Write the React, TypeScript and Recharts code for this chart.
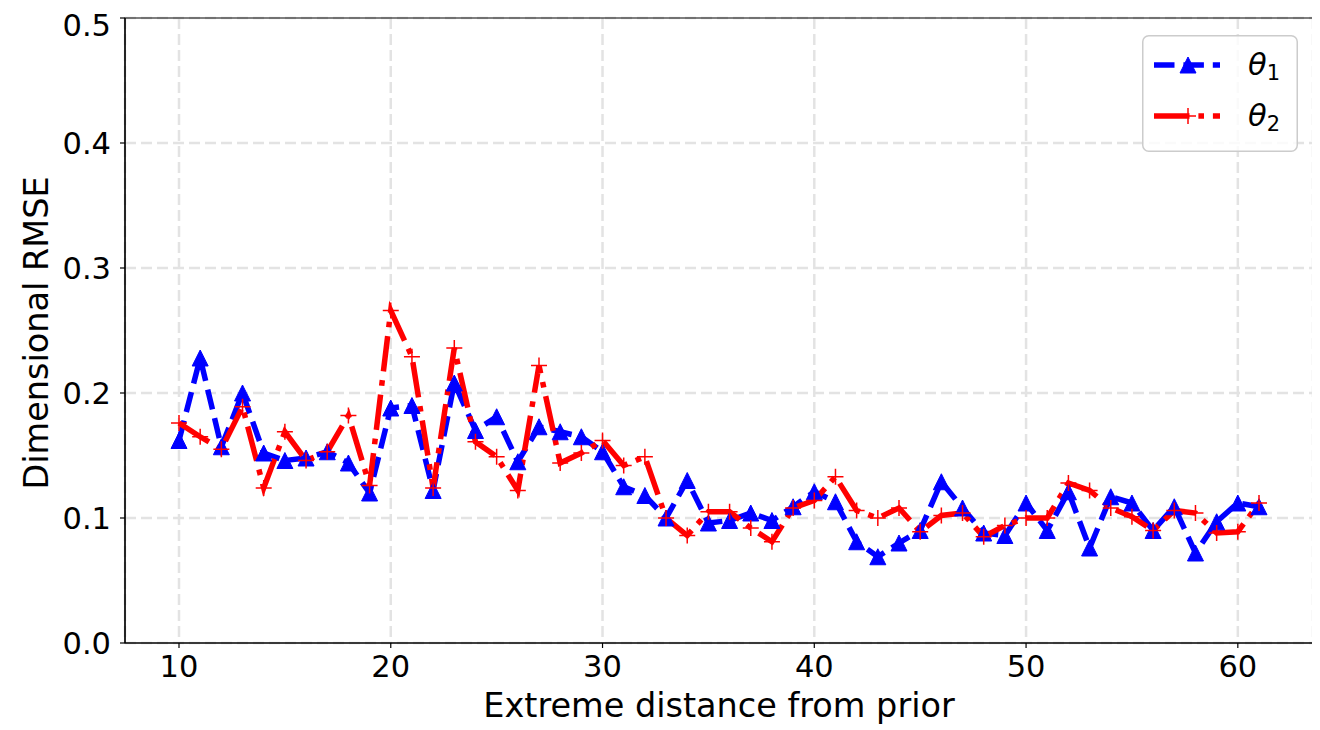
import React from 'react';
import { LineChart, Line, XAxis, YAxis, CartesianGrid, Label, Legend, ReferenceArea } from 'recharts';

const distances = [10, 11, 12, 13, 14, 15, 16, 17, 18, 19, 20, 21, 22, 23, 24, 25, 26, 27, 28, 29, 30, 31, 32, 33, 34, 35, 36, 37, 38, 39, 40, 41, 42, 43, 44, 45, 46, 47, 48, 49, 50, 51, 52, 53, 54, 55, 56, 57, 58, 59, 60, 61];
const theta1 = [0.162, 0.228, 0.157, 0.200, 0.152, 0.146, 0.148, 0.153, 0.144, 0.120, 0.188, 0.190, 0.122, 0.208, 0.170, 0.181, 0.145, 0.173, 0.169, 0.165, 0.153, 0.125, 0.118, 0.100, 0.130, 0.096, 0.098, 0.104, 0.098, 0.109, 0.121, 0.113, 0.081, 0.069, 0.080, 0.090, 0.129, 0.108, 0.088, 0.086, 0.112, 0.090, 0.121, 0.076, 0.117, 0.112, 0.090, 0.109, 0.072, 0.097, 0.112, 0.109];
const theta2 = [0.176, 0.165, 0.155, 0.189, 0.124, 0.169, 0.146, 0.153, 0.182, 0.126, 0.266, 0.229, 0.124, 0.236, 0.161, 0.149, 0.122, 0.222, 0.144, 0.152, 0.162, 0.142, 0.149, 0.100, 0.086, 0.105, 0.105, 0.092, 0.081, 0.108, 0.114, 0.133, 0.106, 0.100, 0.108, 0.089, 0.102, 0.104, 0.085, 0.094, 0.100, 0.100, 0.128, 0.122, 0.108, 0.101, 0.090, 0.106, 0.104, 0.088, 0.089, 0.112];
const xTicks = [10, 20, 30, 40, 50, 60];
const yTicks = [0.0, 0.1, 0.2, 0.3, 0.4, 0.5];
const seriesNames = ['θ', 'θ'];
const seriesSubs = ['1', '2'];
const xLabel = 'Extreme distance from prior';
const yLabel = 'Dimensional RMSE';

const data = distances.map((d, i) => ({ d, t1: theta1[i], t2: theta2[i] }));

const FONT = '"DejaVu Sans", sans-serif';
const BLUE = '#0000ff';
const RED = '#ff0000';
const LW = 5.5;
const DASH_BLUE = '20.5 8.9';
const DASH_RED = '35.5 8.9 5.6 8.9';
const MS = 8;
const TICK_FS = 30.5;
const LABEL_FS = 33.5;

const triPath = (cx: number, cy: number) => `M${cx},${cy - MS}L${cx - MS},${cy + MS}L${cx + MS},${cy + MS}Z`;

const TriDot = (props: any) => {
  const { cx, cy, index } = props;
  if (cx == null || cy == null) return <g key={`tri-${index}`} />;
  return <path key={`tri-${index}`} d={triPath(cx, cy)} fill={BLUE} stroke={BLUE} strokeWidth={1} />;
};

const PlusDot = (props: any) => {
  const { cx, cy, index } = props;
  if (cx == null || cy == null) return <g key={`plus-${index}`} />;
  return (
    <g key={`plus-${index}`}>
      <line x1={cx - MS} x2={cx + MS} y1={cy} y2={cy} stroke={RED} strokeWidth={1.5} />
      <line x1={cx} x2={cx} y1={cy - MS} y2={cy + MS} stroke={RED} strokeWidth={1.5} />
    </g>
  );
};

const LegendBox = () => (
  <svg width={156} height={117} style={{ display: 'block' }}>
    <rect x={0.75} y={0.75} width={154.5} height={115.5} rx={6} ry={6} fill="#ffffff" fillOpacity={0.8} stroke="#cccccc" strokeWidth={1.5} />
    <line x1={12} x2={78} y1={30} y2={30} stroke={BLUE} strokeWidth={LW} strokeDasharray={DASH_BLUE} />
    <path d={triPath(46, 30)} fill={BLUE} stroke={BLUE} strokeWidth={1} />
    <text x={106} y={40} fontSize={30.5} fontFamily={FONT} fill="#000">
      <tspan fontStyle="italic">{seriesNames[0]}</tspan>
      <tspan fontSize={21} dy={5}>{seriesSubs[0]}</tspan>
    </text>
    <line x1={12} x2={78} y1={81} y2={81} stroke={RED} strokeWidth={LW} strokeDasharray={DASH_RED} />
    <line x1={46 - MS} x2={46 + MS} y1={81} y2={81} stroke={RED} strokeWidth={1.5} />
    <line x1={46} x2={46} y1={81 - MS} y2={81 + MS} stroke={RED} strokeWidth={1.5} />
    <text x={106} y={91} fontSize={30.5} fontFamily={FONT} fill="#000">
      <tspan fontStyle="italic">{seriesNames[1]}</tspan>
      <tspan fontSize={21} dy={5}>{seriesSubs[1]}</tspan>
    </text>
  </svg>
);

export default function App() {
  return (
    <div style={{ width: 1312, height: 722, fontFamily: FONT }}>
      <LineChart width={1312} height={722} data={data} margin={{ top: 10, right: 7, bottom: 0, left: 0 }}>
        <CartesianGrid stroke="#e3e3e3" strokeWidth={2.5} strokeDasharray="11 5" />
        <ReferenceArea x1={7.45} x2={63.55} y1={0} y2={0.5} fill="none" stroke="#000" strokeWidth={1.2} ifOverflow="visible" />
        <XAxis
          dataKey="d"
          type="number"
          domain={[7.45, 63.55]}
          ticks={xTicks}
          allowDataOverflow
          height={87}
          tickSize={5}
          tickMargin={7}
          tick={{ fontSize: TICK_FS, fill: '#000', fontFamily: FONT }}
          tickLine={{ stroke: '#000', strokeWidth: 1.2 }}
          axisLine={{ stroke: '#000', strokeWidth: 1.2 }}
        >
          <Label
            content={(p: any) => {
              const vb = p.viewBox;
              return (
                <text x={vb.x + vb.width / 2} y={vb.y + 74} textAnchor="middle" fontSize={LABEL_FS} fontFamily={FONT} fill="#000">
                  {xLabel}
                </text>
              );
            }}
          />
        </XAxis>
        <YAxis
          type="number"
          domain={[0, 0.5]}
          ticks={yTicks}
          allowDataOverflow
          width={117}
          tickSize={5}
          tickMargin={9}
          tickFormatter={(v: number) => v.toFixed(1)}
          tick={{ fontSize: TICK_FS, fill: '#000', fontFamily: FONT }}
          tickLine={{ stroke: '#000', strokeWidth: 1.2 }}
          axisLine={{ stroke: '#000', strokeWidth: 1.2 }}
        >
          <Label
            content={(p: any) => {
              const vb = p.viewBox;
              const cx = 40;
              const cy = vb.y + vb.height / 2 + 2.5;
              return (
                <text x={cx} y={cy} transform={`rotate(-90 ${cx} ${cy})`} textAnchor="middle" fontSize={LABEL_FS} fontFamily={FONT} fill="#000">
                  {yLabel}
                </text>
              );
            }}
          />
        </YAxis>
        <Legend
          layout="horizontal"
          verticalAlign="middle"
          align="center"
          wrapperStyle={{ left: 1134, top: 27, width: 156, height: 117 }}
          content={() => <LegendBox />}
        />
        <Line
          type="linear"
          dataKey="t1"
          stroke={BLUE}
          strokeWidth={LW}
          strokeDasharray={DASH_BLUE}
          dot={TriDot}
          activeDot={false}
          isAnimationActive={false}
        />
        <Line
          type="linear"
          dataKey="t2"
          stroke={RED}
          strokeWidth={LW}
          strokeDasharray={DASH_RED}
          dot={PlusDot}
          activeDot={false}
          isAnimationActive={false}
        />
      </LineChart>
    </div>
  );
}
